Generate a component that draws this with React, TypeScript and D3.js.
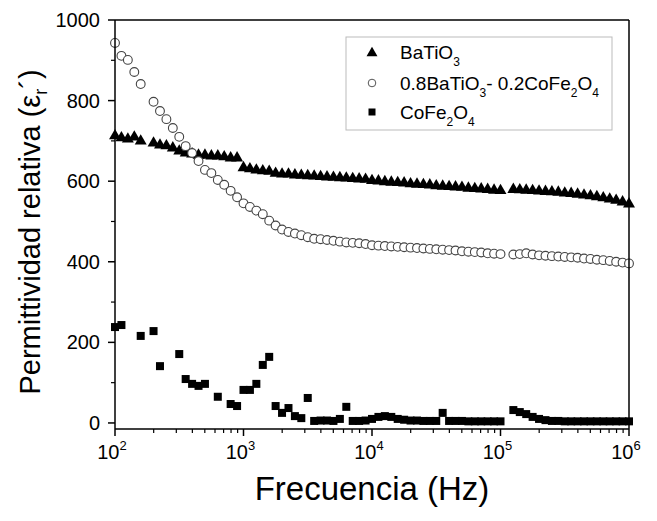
import React from "react";
import * as d3 from "d3";

const FREQ = [
  100, 112.2, 125.9, 141.3, 158.5, 177.8, 199.5, 223.9, 251.2, 281.8,
  316.2, 354.8, 398.1, 446.7, 501.2, 562.3, 631, 707.9, 794.3, 891.3,
  1000, 1122, 1259, 1413, 1585, 1778, 1995, 2239, 2512, 2818,
  3162, 3548, 3981, 4467, 5012, 5623, 6310, 7079, 7943, 8913,
  10000, 11220, 12590, 14130, 15850, 17780, 19950, 22390, 25120, 28180,
  31620, 35480, 39810, 44670, 50120, 56230, 63100, 70790, 79430, 89130,
  100000, 112200, 125900, 141300, 158500, 177800, 199500, 223900, 251200, 281800,
  316200, 354800, 398100, 446700, 501200, 562300, 631000, 707900, 794300, 891300,
  1000000,
];

const BATIO3: (number | null)[] = [
  715, 710, 707, 712, 702, null, 697, 692, 690, 685,
  677, 672, 670, 667, 667, 665, 665, 663, 660, 660,
  636, 633, 630, 628, 627, 622, 620, 620, 618, 617,
  616, 615, 614, 613, 612, 611, 610, 609, 608, 607,
  604, 603, 601, 600, 599, 598, 596, 595, 594, 593,
  591, 590, 589, 588, 587, 585, 584, 583, 582, 580,
  579, null, 582, 581, 580, 579, 578, 577, 576, 575,
  573, 572, 570, 568, 566, 564, 561, 558, 555, 551,
  546,
];

const COMPOSITE: (number | null)[] = [
  943, 911, 901, 871, 841, null, 797, 774, 754, 732,
  710, 687, 670, 650, 628, 620, 603, 591, 576, 560,
  545, 536, 527, 518, 502, 490, 480, 474, 470, 466,
  461, 457, 456, 454, 452, 450, 448, 447, 446, 444,
  441, 440, 439, 438, 437, 436, 435, 434, 433, 432,
  431, 430, 429, 428, 426, 425, 424, 423, 421, 420,
  419, null, 418, 419, 421, 418, 416, 415, 414, 413,
  412, 411, 410, 408, 407, 405, 404, 402, 400, 398,
  396,
];

const COFE2O4: (number | null)[] = [
  238, 243, null, null, 216, null, 228, 141, null, null,
  171, 109, 97, 92, 97, null, 65, null, 47, 42,
  82, 82, 97, 144, 164, 42, 25, 37, 17, 12,
  62, 5, 6, 6, 5, 10, 40, 5, 5, 6,
  10, 15, 17, 15, 10, 8, 6, 6, 5, 5,
  5, 25, 5, 5, 5, 4, 4, 4, 4, 4,
  4, null, 32, 27, 22, 15, 10, 7, 5, 5,
  4, 4, 4, 4, 4, 4, 4, 4, 4, 4,
  4,
];

const Y_TICKS = [0, 200, 400, 600, 800, 1000];
const Y_MINOR = [100, 300, 500, 700, 900];
const X_DECADES = [2, 3, 4, 5, 6];

const FONT = "'Liberation Sans', Arial, sans-serif";

export default function App() {
  const W = 657, H = 521;
  const L = 115, R = 629, T = 20, B = 429;
  const x = d3.scaleLog().domain([100, 1e6]).range([L, R]);
  const y = d3.scaleLinear().domain([-15, 1000]).range([B, T]);

  const xMinor: number[] = [];
  for (let e = 2; e < 6; e++) for (let m = 2; m <= 9; m++) xMinor.push(m * Math.pow(10, e));

  const tri = d3.symbol().type(d3.symbolTriangle).size(62)()!;
  const triLeg = d3.symbol().type(d3.symbolTriangle).size(52)()!;
  const pts = (arr: (number | null)[]) =>
    FREQ.map((f, i) => ({ f, v: arr[i] })).filter((d) => d.v !== null) as { f: number; v: number }[];

  return (
    <svg width={W} height={H} style={{ display: "block", position: "absolute", left: 0, top: 0, background: "#fff" }} fontFamily={FONT}>
      <rect x={0} y={0} width={W} height={H} fill="#fff" />
      <g>
        {pts(BATIO3).map((d, i) => (
          <path key={"t" + i} d={tri} transform={`translate(${x(d.f)},${y(d.v) + 1})`} fill="#000" />
        ))}
        {pts(COMPOSITE).map((d, i) => (
          <circle key={"c" + i} cx={x(d.f)} cy={y(d.v)} r={4.4} fill="#fff" stroke="#444" strokeWidth={1.1} />
        ))}
        {pts(COFE2O4).map((d, i) => (
          <rect key={"s" + i} x={x(d.f) - 4} y={y(d.v) - 4} width={8} height={8} fill="#000" />
        ))}
      </g>
      <line x1={L} x2={R} y1={T} y2={T} stroke="#000" strokeWidth={1.5} />
      <line x1={R} x2={R} y1={T} y2={B} stroke="#000" strokeWidth={1.5} />
      <line x1={L} x2={R} y1={B} y2={B} stroke="#000" strokeWidth={1.5} />
      <line x1={L} x2={L} y1={T} y2={B} stroke="#000" strokeWidth={1.5} />
      {Y_TICKS.map((t) => (
        <g key={"yt" + t}>
          <line x1={L - 7} x2={L} y1={y(t)} y2={y(t)} stroke="#000" strokeWidth={1.5} />
          <text x={L - 15} y={y(t) + 7} textAnchor="end" fontSize={20} fill="#000">{t}</text>
        </g>
      ))}
      {Y_MINOR.map((t) => (
        <line key={"ym" + t} x1={L - 4} x2={L} y1={y(t)} y2={y(t)} stroke="#000" strokeWidth={1.2} />
      ))}
      {X_DECADES.map((e) => (
        <g key={"xt" + e}>
          <line x1={x(Math.pow(10, e))} x2={x(Math.pow(10, e))} y1={B} y2={B + 7} stroke="#000" strokeWidth={1.5} />
          <text x={x(Math.pow(10, e)) - 3} y={459} textAnchor="middle" fontSize={20} fill="#000">
            10<tspan dy={-9} fontSize={13}>{e}</tspan>
          </text>
        </g>
      ))}
      {xMinor.map((v, i) => (
        <line key={"xm" + i} x1={x(v)} x2={x(v)} y1={B} y2={B + 4} stroke="#000" strokeWidth={1.2} />
      ))}
      <text x={(L + R) / 2} y={500} textAnchor="middle" fontSize={33} fill="#000">Frecuencia (Hz)</text>
      <text transform={`translate(40, 232) rotate(-90)`} textAnchor="middle" fontSize={29} fill="#000">
        Permittividad relativa (ε<tspan fontSize={18} dy={7}>r</tspan><tspan dy={-7}>´)</tspan>
      </text>
      <rect x={346} y={37} width={266} height={93} fill="#fff" stroke="#bbb" strokeWidth={1} />
      <path d={triLeg} transform="translate(372,53)" fill="#000" />
      <circle cx={372} cy={83} r={3.8} fill="#fff" stroke="#555" strokeWidth={1} />
      <rect x={368.5} y={108.5} width={7} height={7} fill="#000" />
      <g fontSize={19} fill="#000">
        <text x={400} y={59}>BaTiO<tspan fontSize={12} dy={7}>3</tspan></text>
        <text x={400} y={90}>
          0.8BaTiO<tspan fontSize={12} dy={7}>3</tspan><tspan dy={-7}>- 0.2CoFe</tspan><tspan fontSize={12} dy={7}>2</tspan><tspan dy={-7}>O</tspan><tspan fontSize={12} dy={7}>4</tspan>
        </text>
        <text x={400} y={119}>
          CoFe<tspan fontSize={12} dy={7}>2</tspan><tspan dy={-7}>O</tspan><tspan fontSize={12} dy={7}>4</tspan>
        </text>
      </g>
    </svg>
  );
}
